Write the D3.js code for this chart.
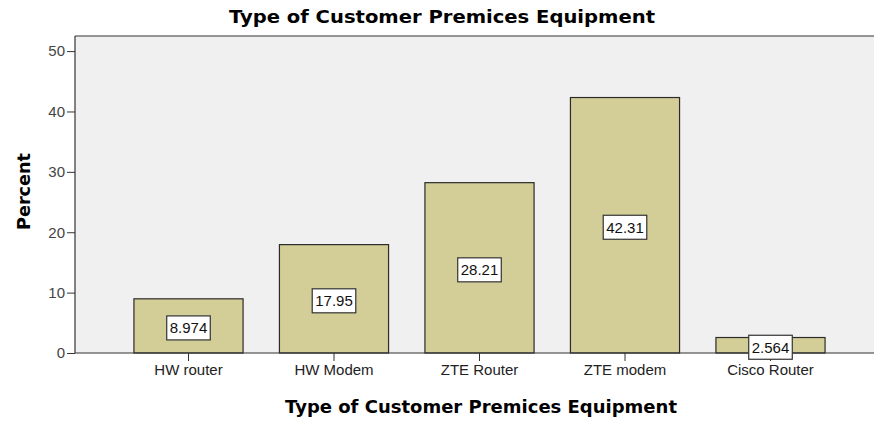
<!DOCTYPE html>
<html>
<head>
<meta charset="utf-8">
<script src="https://cdn.jsdelivr.net/npm/d3@7/dist/d3.min.js"></script>
<style>
  html, body { margin: 0; padding: 0; background: #ffffff; }
  svg { display: block; font-family: "Liberation Sans", Arial, sans-serif; }
</style>
</head>
<body>
<svg id="chart" width="874" height="423"></svg>
<script>
// Equipment types and their share of respondents (percent)
const categories = ["HW router", "HW Modem", "ZTE Router", "ZTE modem", "Cisco Router"];
const percents = [8.974, 17.95, 28.21, 42.31, 2.564];
const valueLabels = ["8.974", "17.95", "28.21", "42.31", "2.564"];
const yTicks = [0, 10, 20, 30, 40, 50];

const svg = d3.select("#chart");

const frame = { left: 75, right: 874, top: 36, bottom: 353 };

const y = d3.scaleLinear().domain([0, 52.5]).range([frame.bottom, frame.top]);
const x = d3.scaleBand()
  .domain(categories)
  .range([115.75, 843.25])
  .paddingInner(0.25)
  .paddingOuter(0.125);

// plot background
svg.append("rect")
  .attr("x", frame.left).attr("y", frame.top)
  .attr("width", frame.right - frame.left)
  .attr("height", frame.bottom - frame.top)
  .attr("fill", "#f0f0f0");

// bars
svg.append("g").selectAll("rect")
  .data(categories)
  .join("rect")
  .attr("x", (d) => x(d))
  .attr("y", (d, i) => y(percents[i]))
  .attr("width", x.bandwidth())
  .attr("height", (d, i) => y(0) - y(percents[i]))
  .attr("fill", "#d3ce97")
  .attr("stroke", "#2b2b2b")
  .attr("stroke-width", 1.2);

// top border of the plot frame
svg.append("line")
  .attr("x1", frame.left).attr("x2", frame.right)
  .attr("y1", frame.top).attr("y2", frame.top)
  .attr("stroke", "#333").attr("stroke-width", 1.2);

// y axis
const yAxis = svg.append("g")
  .attr("transform", `translate(${frame.left},0)`)
  .call(d3.axisLeft(y).tickValues(yTicks).tickSize(8).tickPadding(2).tickSizeOuter(0));
yAxis.select(".domain").attr("stroke", "#333").attr("stroke-width", 1.2)
  .attr("d", `M0,${frame.top}V${frame.bottom}`);
yAxis.selectAll(".tick line").attr("stroke", "#333");
yAxis.selectAll(".tick text")
  .attr("font-size", 15)
  .attr("fill", "#444")
  .attr("font-family", "'Liberation Sans', Arial, sans-serif");

// x axis
const xAxis = svg.append("g")
  .attr("transform", `translate(0,${frame.bottom})`)
  .call(d3.axisBottom(x).tickSize(8).tickPadding(3).tickSizeOuter(0));
xAxis.select(".domain").attr("stroke", "#333").attr("stroke-width", 1.2)
  .attr("d", `M${frame.left},0H${frame.right}`);
xAxis.selectAll(".tick line").attr("stroke", "#333");
xAxis.selectAll(".tick text")
  .attr("font-size", 15)
  .attr("fill", "#222")
  .attr("font-family", "'Liberation Sans', Arial, sans-serif");

// value labels in boxes at half bar height
const labels = svg.append("g").selectAll("g")
  .data(categories)
  .join("g")
  .attr("transform", (d, i) => `translate(${x(d) + x.bandwidth() / 2},${y(percents[i] / 2) + 2})`);

labels.append("text")
  .attr("text-anchor", "middle")
  .attr("dy", "0.36em")
  .attr("font-size", 15)
  .attr("fill", "#111")
  .text((d, i) => valueLabels[i]);

labels.each(function () {
  const g = d3.select(this);
  const bb = g.select("text").node().getBBox();
  g.insert("rect", "text")
    .attr("x", bb.x - 3)
    .attr("y", -12)
    .attr("width", bb.width + 6)
    .attr("height", 24)
    .attr("fill", "#ffffff")
    .attr("stroke", "#333")
    .attr("stroke-width", 1.2);
});

// titles
svg.append("text")
  .attr("x", 442).attr("y", 22.5)
  .attr("text-anchor", "middle")
  .attr("font-family", "'DejaVu Sans', Verdana, sans-serif")
  .attr("font-size", 18)
  .attr("font-weight", "bold")
  .attr("fill", "#000")
  .attr("textLength", 426)
  .attr("lengthAdjust", "spacingAndGlyphs")
  .text("Type of Customer Premices Equipment");

svg.append("text")
  .attr("x", 481).attr("y", 413)
  .attr("text-anchor", "middle")
  .attr("font-family", "'DejaVu Sans', Verdana, sans-serif")
  .attr("font-size", 18)
  .attr("font-weight", "bold")
  .attr("fill", "#000")
  .attr("textLength", 392)
  .attr("lengthAdjust", "spacingAndGlyphs")
  .text("Type of Customer Premices Equipment");

svg.append("text")
  .attr("transform", "translate(30,191.5) rotate(-90)")
  .attr("text-anchor", "middle")
  .attr("font-family", "'DejaVu Sans', Verdana, sans-serif")
  .attr("font-size", 18)
  .attr("font-weight", "bold")
  .attr("fill", "#000")
  .attr("textLength", 77)
  .attr("lengthAdjust", "spacingAndGlyphs")
  .text("Percent");
</script>
</body>
</html>
